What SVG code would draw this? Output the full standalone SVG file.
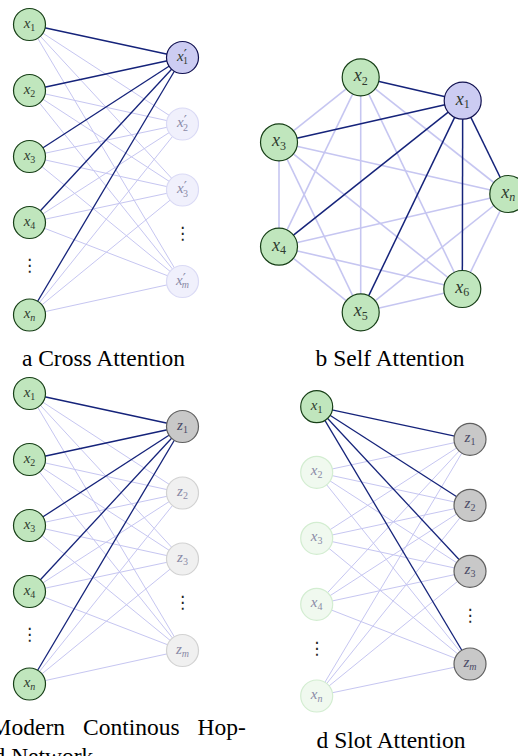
<svg xmlns="http://www.w3.org/2000/svg" width="518" height="756" viewBox="0 0 518 756">
<style>
  .bg{fill:#ffffff}
  .dk{stroke:#15237a;stroke-width:1.3;fill:none}
  .lt{stroke:#c6c6f1;stroke-width:1;fill:none}
  .ltb{stroke:#c6c6f1;stroke-width:1.6;fill:none}
  .dkb{stroke:#15237a;stroke-width:1.5;fill:none}
  .ng{fill:#c0e6bd;stroke:#173f17;stroke-width:1.2}
  .ngf{fill:#f0f9ef;stroke:#d3edd1;stroke-width:1.2}
  .nb{fill:#ccccf2;stroke:#111150;stroke-width:1.2}
  .nbf{fill:#f0f0fc;stroke:#dadaf5;stroke-width:1.2}
  .nz{fill:#c8c8c8;stroke:#606060;stroke-width:1.2}
  .nzf{fill:#f0f0f0;stroke:#d2d2d2;stroke-width:1.2}
  text{font-family:"Liberation Serif","Times New Roman","DejaVu Serif",serif}
  .lb{font-size:15px;fill:#2f3a2f;text-anchor:middle}
  .lbb{font-size:18px;fill:#2f3a2f;text-anchor:middle}
  .lbf{font-size:15px;fill:#8a8aa6;text-anchor:middle}
  .lbz{font-size:15px;fill:#4a4a66;text-anchor:middle}
  .it{font-style:italic}
  .sb{font-size:10px}
  .sbb{font-size:12px}
  .pr{font-family:"DejaVu Serif",serif;font-size:14px}
  .cap{font-size:23.5px;fill:#000000}
  .dots{font-family:"DejaVu Sans",sans-serif;font-size:17px;fill:#222222;text-anchor:middle}
</style>
<rect class="bg" x="0" y="0" width="518" height="756"/>

<!-- ================= Panel a: Cross Attention ================= -->
<g id="panel-a">
  <g id="a-connectors">
    <line class="lt" x1="29.5" y1="24.5" x2="182.5" y2="124"/>
    <line class="lt" x1="29.5" y1="24.5" x2="182.5" y2="190"/>
    <line class="lt" x1="29.5" y1="24.5" x2="182.5" y2="281.5"/>
    <line class="lt" x1="29.5" y1="90.5" x2="182.5" y2="124"/>
    <line class="lt" x1="29.5" y1="90.5" x2="182.5" y2="190"/>
    <line class="lt" x1="29.5" y1="90.5" x2="182.5" y2="281.5"/>
    <line class="lt" x1="29.5" y1="156.5" x2="182.5" y2="124"/>
    <line class="lt" x1="29.5" y1="156.5" x2="182.5" y2="190"/>
    <line class="lt" x1="29.5" y1="156.5" x2="182.5" y2="281.5"/>
    <line class="lt" x1="29.5" y1="222.5" x2="182.5" y2="124"/>
    <line class="lt" x1="29.5" y1="222.5" x2="182.5" y2="190"/>
    <line class="lt" x1="29.5" y1="222.5" x2="182.5" y2="281.5"/>
    <line class="lt" x1="29.5" y1="315" x2="182.5" y2="124"/>
    <line class="lt" x1="29.5" y1="315" x2="182.5" y2="190"/>
    <line class="lt" x1="29.5" y1="315" x2="182.5" y2="281.5"/>
    <line class="dk" x1="29.5" y1="24.5" x2="182.5" y2="57.5"/>
    <line class="dk" x1="29.5" y1="90.5" x2="182.5" y2="57.5"/>
    <line class="dk" x1="29.5" y1="156.5" x2="182.5" y2="57.5"/>
    <line class="dk" x1="29.5" y1="222.5" x2="182.5" y2="57.5"/>
    <line class="dk" x1="29.5" y1="315" x2="182.5" y2="57.5"/>
  </g>
  <g id="a-x1"><circle class="ng" cx="29.5" cy="24.5" r="16"/><text class="lb" x="29.5" y="27.5"><tspan class="it">x</tspan><tspan class="sb" dy="3">1</tspan></text></g>
  <g id="a-x2"><circle class="ng" cx="29.5" cy="90.5" r="16"/><text class="lb" x="29.5" y="93.5"><tspan class="it">x</tspan><tspan class="sb" dy="3">2</tspan></text></g>
  <g id="a-x3"><circle class="ng" cx="29.5" cy="156.5" r="16"/><text class="lb" x="29.5" y="159.5"><tspan class="it">x</tspan><tspan class="sb" dy="3">3</tspan></text></g>
  <g id="a-x4"><circle class="ng" cx="29.5" cy="222.5" r="16"/><text class="lb" x="29.5" y="225.5"><tspan class="it">x</tspan><tspan class="sb" dy="3">4</tspan></text></g>
  <g id="a-xn"><circle class="ng" cx="29.5" cy="315" r="16"/><text class="lb" x="29.5" y="318"><tspan class="it">x</tspan><tspan class="it sb" dy="3">n</tspan></text></g>
  <g id="a-ldots"><text class="dots" x="29.5" y="271">⋮</text></g>
  <g id="a-y1"><circle class="nb" cx="182.5" cy="57.5" r="16"/><text class="lb" x="182.5" y="60.5"><tspan class="it">x</tspan><tspan class="pr" dy="-1">′</tspan><tspan class="sb" dx="-4" dy="4.5">1</tspan></text></g>
  <g id="a-y2"><circle class="nbf" cx="182.5" cy="124" r="16"/><text class="lbf" x="182.5" y="127"><tspan class="it">x</tspan><tspan class="pr" dy="-1">′</tspan><tspan class="sb" dx="-4" dy="4.5">2</tspan></text></g>
  <g id="a-y3"><circle class="nbf" cx="182.5" cy="190" r="16"/><text class="lbf" x="182.5" y="193"><tspan class="it">x</tspan><tspan class="pr" dy="-1">′</tspan><tspan class="sb" dx="-4" dy="4.5">3</tspan></text></g>
  <g id="a-ym"><circle class="nbf" cx="182.5" cy="281.5" r="16"/><text class="lbf" x="182.5" y="284.5"><tspan class="it">x</tspan><tspan class="pr" dy="-1">′</tspan><tspan class="it sb" dx="-4" dy="4.5">m</tspan></text></g>
  <g id="a-rdots"><text class="dots" x="182.5" y="239">⋮</text></g>
  <text class="cap" x="103.5" y="366" text-anchor="middle">a Cross Attention</text>
</g>

<!-- ================= Panel b: Self Attention ================= -->
<g id="panel-b">
  <g id="b-connectors">
    <line class="ltb" x1="360.7" y1="77.3" x2="279" y2="142.3"/>
    <line class="ltb" x1="360.7" y1="77.3" x2="279" y2="246.7"/>
    <line class="ltb" x1="360.7" y1="77.3" x2="360.7" y2="312.3"/>
    <line class="ltb" x1="360.7" y1="77.3" x2="462.3" y2="289"/>
    <line class="ltb" x1="360.7" y1="77.3" x2="508.3" y2="194"/>
    <line class="ltb" x1="279" y1="142.3" x2="279" y2="246.7"/>
    <line class="ltb" x1="279" y1="142.3" x2="360.7" y2="312.3"/>
    <line class="ltb" x1="279" y1="142.3" x2="462.3" y2="289"/>
    <line class="ltb" x1="279" y1="142.3" x2="508.3" y2="194"/>
    <line class="ltb" x1="279" y1="246.7" x2="360.7" y2="312.3"/>
    <line class="ltb" x1="279" y1="246.7" x2="462.3" y2="289"/>
    <line class="ltb" x1="279" y1="246.7" x2="508.3" y2="194"/>
    <line class="ltb" x1="360.7" y1="312.3" x2="462.3" y2="289"/>
    <line class="ltb" x1="360.7" y1="312.3" x2="508.3" y2="194"/>
    <line class="ltb" x1="462.3" y1="289" x2="508.3" y2="194"/>
    <line class="dkb" x1="462.7" y1="100.7" x2="360.7" y2="77.3"/>
    <line class="dkb" x1="462.7" y1="100.7" x2="279" y2="142.3"/>
    <line class="dkb" x1="462.7" y1="100.7" x2="279" y2="246.7"/>
    <line class="dkb" x1="462.7" y1="100.7" x2="360.7" y2="312.3"/>
    <line class="dkb" x1="462.7" y1="100.7" x2="462.3" y2="289"/>
    <line class="dkb" x1="462.7" y1="100.7" x2="508.3" y2="194"/>
  </g>
  <g id="b-x1"><circle class="nb" cx="462.7" cy="100.7" r="18.5"/><text class="lbb" x="462.7" y="104.5"><tspan class="it">x</tspan><tspan class="sbb" dy="3.5">1</tspan></text></g>
  <g id="b-x2"><circle class="ng" cx="360.7" cy="77.3" r="18.5"/><text class="lbb" x="360.7" y="81.1"><tspan class="it">x</tspan><tspan class="sbb" dy="3.5">2</tspan></text></g>
  <g id="b-x3"><circle class="ng" cx="279" cy="142.3" r="18.5"/><text class="lbb" x="279" y="146.1"><tspan class="it">x</tspan><tspan class="sbb" dy="3.5">3</tspan></text></g>
  <g id="b-x4"><circle class="ng" cx="279" cy="246.7" r="18.5"/><text class="lbb" x="279" y="250.5"><tspan class="it">x</tspan><tspan class="sbb" dy="3.5">4</tspan></text></g>
  <g id="b-x5"><circle class="ng" cx="360.7" cy="312.3" r="18.5"/><text class="lbb" x="360.7" y="316.1"><tspan class="it">x</tspan><tspan class="sbb" dy="3.5">5</tspan></text></g>
  <g id="b-x6"><circle class="ng" cx="462.3" cy="289" r="18.5"/><text class="lbb" x="462.3" y="292.8"><tspan class="it">x</tspan><tspan class="sbb" dy="3.5">6</tspan></text></g>
  <g id="b-xn"><circle class="ng" cx="508.3" cy="194" r="18.5"/><text class="lbb" x="508.3" y="197.8"><tspan class="it">x</tspan><tspan class="it sbb" dy="3.5">n</tspan></text></g>
  <text class="cap" x="390" y="366" text-anchor="middle">b Self Attention</text>
</g>

<!-- ================= Panel c: Modern Continous Hopfield Network ================= -->
<g id="panel-c">
  <g id="c-connectors">
    <line class="lt" x1="29.5" y1="393.5" x2="182.5" y2="493"/>
    <line class="lt" x1="29.5" y1="393.5" x2="182.5" y2="559"/>
    <line class="lt" x1="29.5" y1="393.5" x2="182.5" y2="650.5"/>
    <line class="lt" x1="29.5" y1="459.5" x2="182.5" y2="493"/>
    <line class="lt" x1="29.5" y1="459.5" x2="182.5" y2="559"/>
    <line class="lt" x1="29.5" y1="459.5" x2="182.5" y2="650.5"/>
    <line class="lt" x1="29.5" y1="525.5" x2="182.5" y2="493"/>
    <line class="lt" x1="29.5" y1="525.5" x2="182.5" y2="559"/>
    <line class="lt" x1="29.5" y1="525.5" x2="182.5" y2="650.5"/>
    <line class="lt" x1="29.5" y1="591.5" x2="182.5" y2="493"/>
    <line class="lt" x1="29.5" y1="591.5" x2="182.5" y2="559"/>
    <line class="lt" x1="29.5" y1="591.5" x2="182.5" y2="650.5"/>
    <line class="lt" x1="29.5" y1="684" x2="182.5" y2="493"/>
    <line class="lt" x1="29.5" y1="684" x2="182.5" y2="559"/>
    <line class="lt" x1="29.5" y1="684" x2="182.5" y2="650.5"/>
    <line class="dk" x1="29.5" y1="393.5" x2="182.5" y2="426.5"/>
    <line class="dk" x1="29.5" y1="459.5" x2="182.5" y2="426.5"/>
    <line class="dk" x1="29.5" y1="525.5" x2="182.5" y2="426.5"/>
    <line class="dk" x1="29.5" y1="591.5" x2="182.5" y2="426.5"/>
    <line class="dk" x1="29.5" y1="684" x2="182.5" y2="426.5"/>
  </g>
  <g id="c-x1"><circle class="ng" cx="29.5" cy="393.5" r="16"/><text class="lb" x="29.5" y="396.5"><tspan class="it">x</tspan><tspan class="sb" dy="3">1</tspan></text></g>
  <g id="c-x2"><circle class="ng" cx="29.5" cy="459.5" r="16"/><text class="lb" x="29.5" y="462.5"><tspan class="it">x</tspan><tspan class="sb" dy="3">2</tspan></text></g>
  <g id="c-x3"><circle class="ng" cx="29.5" cy="525.5" r="16"/><text class="lb" x="29.5" y="528.5"><tspan class="it">x</tspan><tspan class="sb" dy="3">3</tspan></text></g>
  <g id="c-x4"><circle class="ng" cx="29.5" cy="591.5" r="16"/><text class="lb" x="29.5" y="594.5"><tspan class="it">x</tspan><tspan class="sb" dy="3">4</tspan></text></g>
  <g id="c-xn"><circle class="ng" cx="29.5" cy="684" r="16"/><text class="lb" x="29.5" y="687"><tspan class="it">x</tspan><tspan class="it sb" dy="3">n</tspan></text></g>
  <g id="c-ldots"><text class="dots" x="29.5" y="640">⋮</text></g>
  <g id="c-z1"><circle class="nz" cx="182.5" cy="426.5" r="16"/><text class="lbz" x="182.5" y="429.5"><tspan class="it">z</tspan><tspan class="sb" dy="3">1</tspan></text></g>
  <g id="c-z2"><circle class="nzf" cx="182.5" cy="493" r="16"/><text class="lbf" x="182.5" y="496"><tspan class="it">z</tspan><tspan class="sb" dy="3">2</tspan></text></g>
  <g id="c-z3"><circle class="nzf" cx="182.5" cy="559" r="16"/><text class="lbf" x="182.5" y="562"><tspan class="it">z</tspan><tspan class="sb" dy="3">3</tspan></text></g>
  <g id="c-zm"><circle class="nzf" cx="182.5" cy="650.5" r="16"/><text class="lbf" x="182.5" y="653.5"><tspan class="it">z</tspan><tspan class="it sb" dy="3">m</tspan></text></g>
  <g id="c-rdots"><text class="dots" x="182.5" y="608">⋮</text></g>
  <text class="cap" x="-9.4" y="735" word-spacing="12.1">Modern Continous Hop-</text>
  <text class="cap" x="-6.5" y="764">d Network</text>
</g>

<!-- ================= Panel d: Slot Attention ================= -->
<g id="panel-d">
  <g id="d-connectors">
    <line class="lt" x1="316.7" y1="472.3" x2="470" y2="439.3"/>
    <line class="lt" x1="316.7" y1="472.3" x2="470" y2="505.3"/>
    <line class="lt" x1="316.7" y1="472.3" x2="470" y2="571.3"/>
    <line class="lt" x1="316.7" y1="472.3" x2="470" y2="664"/>
    <line class="lt" x1="316.7" y1="538.3" x2="470" y2="439.3"/>
    <line class="lt" x1="316.7" y1="538.3" x2="470" y2="505.3"/>
    <line class="lt" x1="316.7" y1="538.3" x2="470" y2="571.3"/>
    <line class="lt" x1="316.7" y1="538.3" x2="470" y2="664"/>
    <line class="lt" x1="316.7" y1="604.3" x2="470" y2="439.3"/>
    <line class="lt" x1="316.7" y1="604.3" x2="470" y2="505.3"/>
    <line class="lt" x1="316.7" y1="604.3" x2="470" y2="571.3"/>
    <line class="lt" x1="316.7" y1="604.3" x2="470" y2="664"/>
    <line class="lt" x1="316.7" y1="696" x2="470" y2="439.3"/>
    <line class="lt" x1="316.7" y1="696" x2="470" y2="505.3"/>
    <line class="lt" x1="316.7" y1="696" x2="470" y2="571.3"/>
    <line class="lt" x1="316.7" y1="696" x2="470" y2="664"/>
    <line class="dk" x1="316.7" y1="406.7" x2="470" y2="439.3"/>
    <line class="dk" x1="316.7" y1="406.7" x2="470" y2="505.3"/>
    <line class="dk" x1="316.7" y1="406.7" x2="470" y2="571.3"/>
    <line class="dk" x1="316.7" y1="406.7" x2="470" y2="664"/>
  </g>
  <g id="d-x1"><circle class="ng" cx="316.7" cy="406.7" r="16"/><text class="lb" x="316.7" y="409.7"><tspan class="it">x</tspan><tspan class="sb" dy="3">1</tspan></text></g>
  <g id="d-x2"><circle class="ngf" cx="316.7" cy="472.3" r="16"/><text class="lbf" x="316.7" y="475.3"><tspan class="it">x</tspan><tspan class="sb" dy="3">2</tspan></text></g>
  <g id="d-x3"><circle class="ngf" cx="316.7" cy="538.3" r="16"/><text class="lbf" x="316.7" y="541.3"><tspan class="it">x</tspan><tspan class="sb" dy="3">3</tspan></text></g>
  <g id="d-x4"><circle class="ngf" cx="316.7" cy="604.3" r="16"/><text class="lbf" x="316.7" y="607.3"><tspan class="it">x</tspan><tspan class="sb" dy="3">4</tspan></text></g>
  <g id="d-xn"><circle class="ngf" cx="316.7" cy="696" r="16"/><text class="lbf" x="316.7" y="699"><tspan class="it">x</tspan><tspan class="it sb" dy="3">n</tspan></text></g>
  <g id="d-ldots"><text class="dots" x="316.7" y="654">⋮</text></g>
  <g id="d-z1"><circle class="nz" cx="470" cy="439.3" r="16"/><text class="lbz" x="470" y="442.3"><tspan class="it">z</tspan><tspan class="sb" dy="3">1</tspan></text></g>
  <g id="d-z2"><circle class="nz" cx="470" cy="505.3" r="16"/><text class="lbz" x="470" y="508.3"><tspan class="it">z</tspan><tspan class="sb" dy="3">2</tspan></text></g>
  <g id="d-z3"><circle class="nz" cx="470" cy="571.3" r="16"/><text class="lbz" x="470" y="574.3"><tspan class="it">z</tspan><tspan class="sb" dy="3">3</tspan></text></g>
  <g id="d-zm"><circle class="nz" cx="470" cy="664" r="16"/><text class="lbz" x="470" y="667"><tspan class="it">z</tspan><tspan class="it sb" dy="3">m</tspan></text></g>
  <g id="d-rdots"><text class="dots" x="470" y="621">⋮</text></g>
  <text class="cap" x="391" y="748" text-anchor="middle">d Slot Attention</text>
</g>
</svg>
